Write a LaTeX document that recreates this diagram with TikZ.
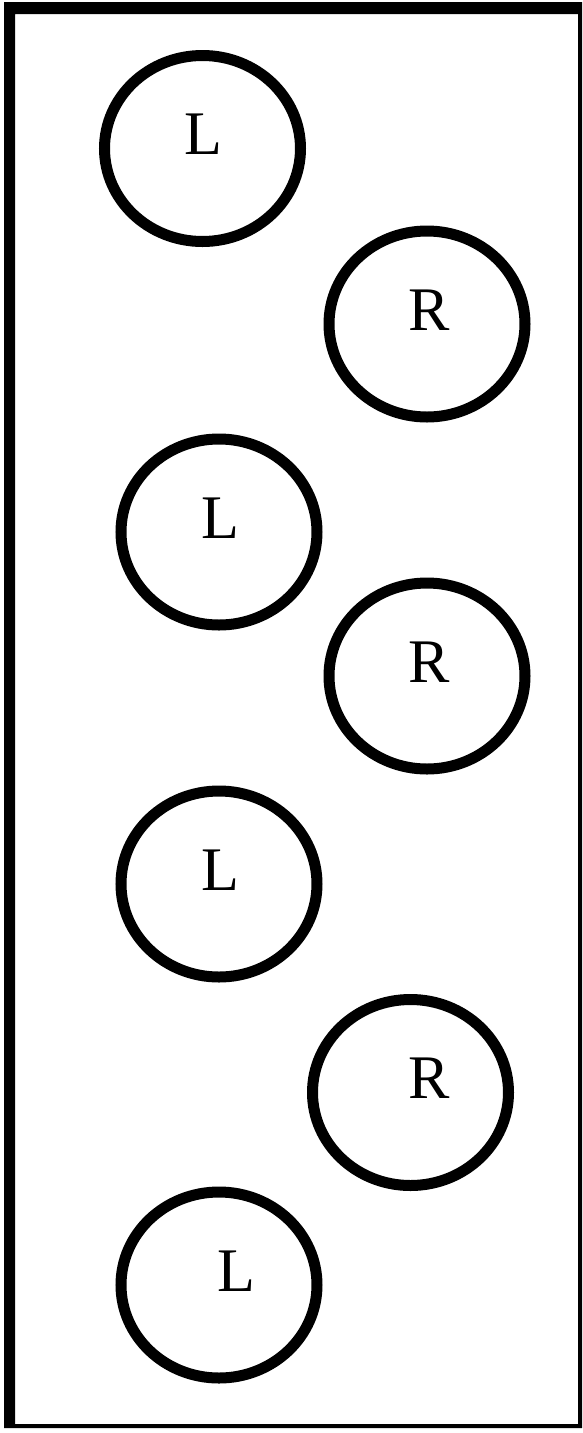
\documentclass[tikz,border=0pt]{standalone}
\usepackage{fontspec}
\setmainfont{Liberation Serif}
\usetikzlibrary{shapes.geometric}
\begin{document}
\begin{tikzpicture}[x=1pt,y=-1pt,
  ring/.style={draw=black,line width=11pt,ellipse,minimum width=196pt,minimum height=186pt,inner sep=0pt},
  lbl/.style={font=\fontsize{62}{62}\selectfont,inner sep=0pt,anchor=center}]
\useasboundingbox (0,0) rectangle (583,1433);
\fill[black,even odd rule] (4,2) rectangle (582,1428) (15,14) rectangle (578,1424);
\node[ring] (e1) at (202.5,148.5) {};
\node[ring] (e2) at (427,324) {};
\node[ring] (e3) at (219,532) {};
\node[ring] (e4) at (427,676) {};
\node[ring] (e5) at (219,884) {};
\node[ring] (e6) at (410.5,1092.5) {};
\node[ring] (e7) at (219,1285) {};
\node[lbl] (t1) at ([xshift=1pt,yshift=14pt]e1.center) {L};
\node[lbl] (t2) at ([xshift=2pt,yshift=14pt]e2.center) {R};
\node[lbl] (t3) at ([xshift=1pt,yshift=14pt]e3.center) {L};
\node[lbl] (t4) at ([xshift=2pt,yshift=14pt]e4.center) {R};
\node[lbl] (t5) at ([xshift=1pt,yshift=14pt]e5.center) {L};
\node[lbl] (t6) at ([xshift=19pt,yshift=14pt]e6.center) {R};
\node[lbl] (t7) at ([xshift=17pt,yshift=14pt]e7.center) {L};
\end{tikzpicture}
\end{document}
